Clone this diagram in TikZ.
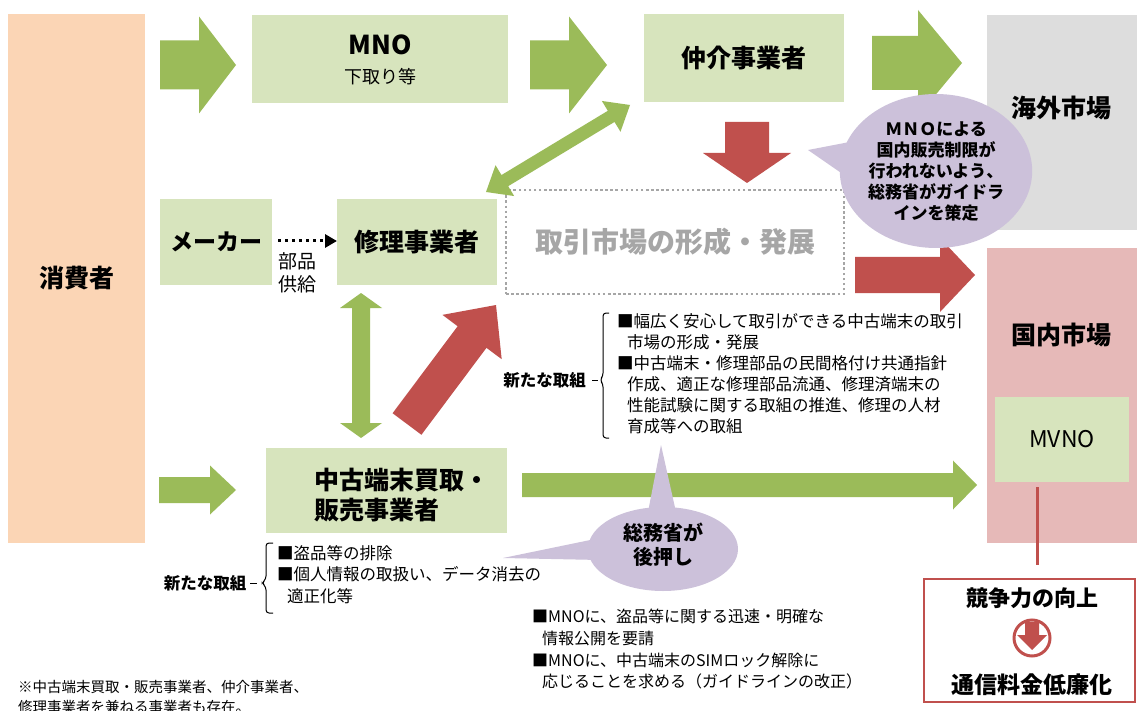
\documentclass[tikz,border=0pt]{standalone}
\usepackage{fontspec}
\setmainfont{Noto Sans CJK JP}
\usetikzlibrary{calc,arrows.meta,shapes.geometric}
\definecolor{peach}{HTML}{FBD5B5}
\definecolor{lgreen}{HTML}{D7E4BD}
\definecolor{agreen}{HTML}{9BBB59}
\definecolor{ared}{HTML}{C0504D}
\definecolor{lgray}{HTML}{DDDDDD}
\definecolor{lpink}{HTML}{E6B9B8}
\definecolor{lpurple}{HTML}{CCC1DA}
\definecolor{dgray}{HTML}{A6A6A6}
\newcommand\fs[2]{\fontsize{#1}{#2}\selectfont}
% fat arrow: style, from, to, shaft half, head half, head length
\newcommand\fatarrow[6]{%
  \path ($(#3)!#6!(#2)$) coordinate (fatH);
  \fill[#1] ($(#2)!#4!90:(#3)$) -- ($(fatH)!#4!90:(#3)$) -- ($(fatH)!#5!90:(#3)$) -- (#3)
    -- ($(fatH)!#5!-90:(#3)$) -- ($(fatH)!#4!-90:(#3)$) -- ($(#2)!#4!-90:(#3)$) -- cycle;}
% double fat arrow
\newcommand\dblarrow[6]{%
  \path ($(#3)!#6!(#2)$) coordinate (dblB) ($(#2)!#6!(#3)$) coordinate (dblA);
  \fill[#1] (#2) -- ($(dblA)!#5!90:(#3)$) -- ($(dblA)!#4!90:(#3)$) -- ($(dblB)!#4!90:(#3)$)
    -- ($(dblB)!#5!90:(#3)$) -- (#3) -- ($(dblB)!#5!-90:(#3)$) -- ($(dblB)!#4!-90:(#3)$)
    -- ($(dblA)!#4!-90:(#3)$) -- ($(dblA)!#5!-90:(#3)$) -- cycle;}
\tikzset{
  box/.style={inner sep=0pt, outer sep=0pt},
  gbox/.style={box, fill=lgreen},
  big/.style={font=\fs{25}{30}\bfseries},
  para/.style={inner sep=0pt, align=left, anchor=north west},
  bub/.style={ellipse, fill=lpurple, inner sep=0pt, align=center},
  brace/.style={line width=1pt, rounded corners=3pt},
}
\begin{document}
\begin{tikzpicture}[x=1pt,y=-1pt]
\useasboundingbox (0,0) rectangle (1137,711);
\fill[white] (0,0) rectangle (1137,711);

% boxes
\node[box, fill=peach, minimum width=137pt, minimum height=529pt, big] (cons) at (76.5,278.5) {消費者};
\node[gbox, minimum width=256pt, minimum height=88pt] (mno) at (380,59) {};
\node[font=\fs{26}{30}\bfseries, inner sep=0pt] (mnot) at (380,45) {MNO};
\node[font=\fs{18}{22}, inner sep=0pt] (mnos) at (380,77) {下取り等};
\node[gbox, minimum width=200pt, minimum height=88pt, big] (broker) at (744,58) {仲介事業者};
\node[box, fill=lgray, minimum width=150pt, minimum height=215pt] (over) at (1062,122.5) {};
\node[big, inner sep=0pt] (overt) at (1061,108) {海外市場};
\node[box, fill=lpink, minimum width=150pt, minimum height=295pt] (dom) at (1062,395.5) {};
\node[big, inner sep=0pt] (domt) at (1061,335) {国内市場};
\node[gbox, minimum width=134pt, minimum height=85pt, font=\fs{23}{28}] (mvno) at (1062,439.5) {MVNO};
\node[gbox, minimum width=112pt, minimum height=86pt, font=\fs{23}{28}\bfseries] (maker) at (216,242) {メーカー};
\node[gbox, minimum width=160pt, minimum height=86pt, big] (repair) at (417,242) {修理事業者};
\node[gbox, minimum width=241pt, minimum height=85pt] (used) at (386.5,490.5) {};
\node[big, align=left, inner sep=0pt] (usedt) at (402,495) {中古端末買取・\\販売事業者};
\node[box, draw=dgray, line width=2.5pt, dash pattern=on 2.5pt off 2.6pt, minimum width=338pt, minimum height=104pt, text=dgray, font=\fs{28}{32}\bfseries] (market) at (675,242) {取引市場の形成・発展};
\node[box, draw=ared, line width=2.5pt, fill=white, minimum width=211pt, minimum height=123pt] (result) at (1029.5,640.5) {};
\node[font=\fs{22}{26}\bfseries, inner sep=0pt] (res1) at (1032,598) {競争力の向上};
\node[font=\fs{23}{27}\bfseries, inner sep=0pt] (res2) at (1032,685) {通信料金低廉化};
\node[circle, draw=ared, line width=3pt, fill=white, minimum size=36pt, inner sep=0pt] (icon) at (1032,638) {};
\coordinate (ic1) at (1032,622);
\coordinate (ic2) at (1032,650);
\fatarrow{ared}{ic1}{ic2}{7pt}{15pt}{15pt}

% green arrows
\coordinate (a1s) at (160,65);  \coordinate (a1e) at (236,65);
\coordinate (a2s) at (530,65);  \coordinate (a2e) at (607,65);
\coordinate (a3s) at (872,63);  \coordinate (a3e) at (962,63);
\coordinate (a4s) at (159,490); \coordinate (a4e) at (236,490);
\coordinate (a5s) at (522,485); \coordinate (a5e) at (977,485);
\fatarrow{agreen}{a1s}{a1e}{24.5pt}{48.5pt}{37pt}
\fatarrow{agreen}{a2s}{a2e}{24.5pt}{48.5pt}{38pt}
\fatarrow{agreen}{a3s}{a3e}{27pt}{53pt}{44pt}
\fatarrow{agreen}{a4s}{a4e}{13pt}{24.5pt}{26pt}
\fatarrow{agreen}{a5s}{a5e}{12pt}{24.5pt}{24pt}
\coordinate (d1s) at (486,192); \coordinate (d1e) at (630,105);
\coordinate (d2s) at (361,293); \coordinate (d2e) at (361,438);
\dblarrow{agreen}{d1s}{d1e}{6.5pt}{18pt}{22pt}
\dblarrow{agreen}{d2s}{d2e}{9pt}{21pt}{15pt}

% red arrows
\coordinate (r1s) at (747,122); \coordinate (r1e) at (747,183);
\coordinate (r2s) at (855,275); \coordinate (r2e) at (975,275);
\coordinate (r3s) at (407,424); \coordinate (r3e) at (496,305);
\fatarrow{ared}{r1s}{r1e}{22pt}{44pt}{30pt}
\fatarrow{ared}{r2s}{r2e}{18pt}{37pt}{35pt}
\fatarrow{ared}{r3s}{r3e}{18pt}{37pt}{40pt}

% dotted supply arrow
\draw[line width=3pt, dash pattern=on 3pt off 4pt, -{Triangle[length=12pt,width=13pt]}]
  ($(maker.east)+(6,-1)$) -- (repair.west |- 0,241);
\node[font=\fs{19}{23}, align=center, inner sep=0pt] (supply) at (297,273) {部品\\供給};

% red link line
\draw[ared, line width=3pt] ($(mvno.south)+(-25,5)$) -- ($(result.north)+(7.5,-14)$);

% speech bubbles
\node[bub, minimum width=192pt, minimum height=154pt, font=\fs{17}{21}\bfseries] (bub1) at (936,171)
  {ＭＮＯによる\\国内販売制限が\\行われないよう、\\総務省がガイドラ\\インを策定};
\fill[lpurple] (808,150) -- ($(bub1.center)+(-76,-31)$) -- ($(bub1.center)+(-76,15)$) -- cycle;
\node[bub, minimum width=150pt, minimum height=84pt] (bub2) at (663,549) {};
\fill[lpurple] (661,445) -- ($(bub2.center)+(-15,-37)$) -- ($(bub2.center)+(13,-37)$) -- cycle;
\fill[lpurple] (503,558) -- ($(bub2.center)+(-63,-11)$) -- ($(bub2.center)+(-63,11)$) -- cycle;
\node[font=\fs{20}{24}\bfseries, align=center, inner sep=0pt] (bub2t) at (663,545) {総務省が\\後押し};

% text blocks
\node[font=\fs{16.5}{20}\bfseries, inner sep=0pt] (new1) at (544.5,380) {新たな取組};
\draw[line width=1pt] (592,380) -- (598,380);
\draw[brace] (609,313) -- (603,313) -- (603,376) -- (600,380) -- (603,384) -- (603,438) -- (609,438);
\node[para, font=\fs{16.5}{21}] (txt1) at (617,313) {■幅広く安心して取引ができる中古端末の取引\\
\hspace*{10pt}市場の形成・発展\\
■中古端末・修理部品の民間格付け共通指針\\
\hspace*{10pt}作成、適正な修理部品流通、修理済端末の\\
\hspace*{10pt}性能試験に関する取組の推進、修理の人材\\
\hspace*{10pt}育成等への取組};

\node[font=\fs{16.5}{20}\bfseries, inner sep=0pt] (new2) at (205,583) {新たな取組};
\draw[line width=1pt] (250,583) -- (257,583);
\draw[brace] (273,543) -- (266,543) -- (266,579) -- (262,583) -- (266,587) -- (266,613) -- (273,613);
\node[para, font=\fs{16.5}{21.5}] (txt2) at (277,545) {■盗品等の排除\\
■個人情報の取扱い、データ消去の\\
\hspace*{10pt}適正化等};

\node[para, font=\fs{16}{21.7}] (txt3) at (532,609) {■MNOに、盗品等に関する迅速・明確な\\
\hspace*{10pt}情報公開を要請\\
■MNOに、中古端末のSIMロック解除に\\
\hspace*{10pt}応じることを求める（ガイドラインの改正）};

\node[para, font=\fs{14.5}{20}] (note) at (18,680) {※中古端末買取・販売事業者、仲介事業者、\\
修理事業者を兼ねる事業者も存在。};
\end{tikzpicture}
\end{document}
